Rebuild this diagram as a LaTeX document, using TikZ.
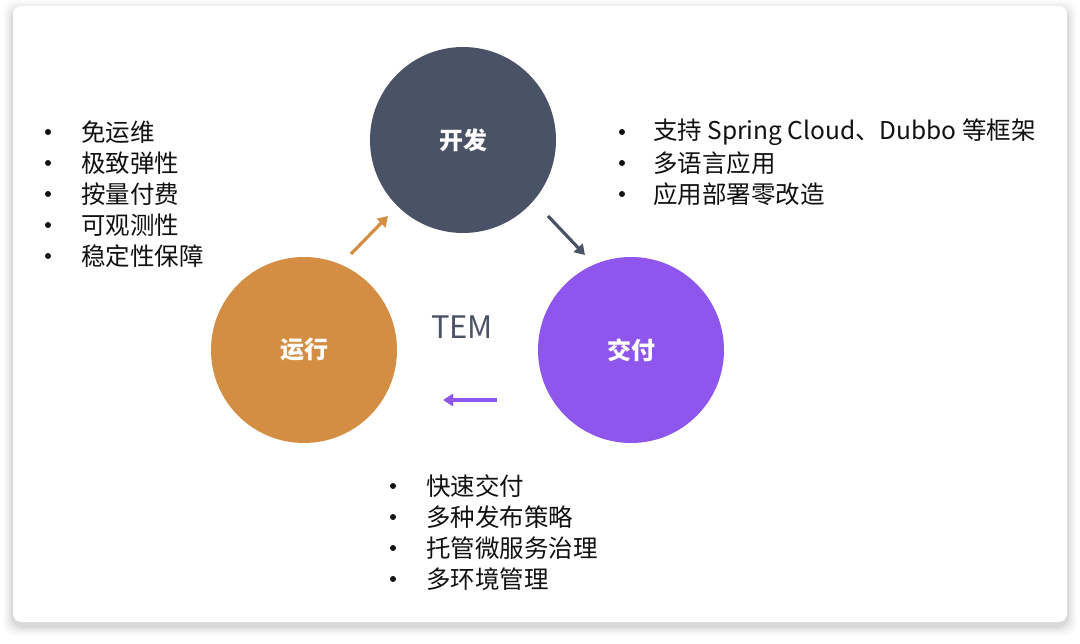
\documentclass[tikz,border=0pt]{standalone}
\usepackage{fontspec}
\setmainfont{Noto Sans CJK SC}
\usetikzlibrary{arrows.meta}
\definecolor{cdark}{HTML}{4A5266}
\definecolor{corange}{HTML}{D38E44}
\definecolor{cpurple}{HTML}{8E56EC}
\definecolor{ctext}{HTML}{111111}
\tikzset{
  circ/.style={circle,minimum size=186pt,inner sep=0pt,text=white,font=\fontsize{24}{24}\selectfont\bfseries},
  arr/.style={line width=3.2pt,-{Triangle[length=10pt,width=12pt]}},
  item/.style={anchor=west,inner sep=0pt,text=ctext,font=\fontsize{24.5}{24.5}\selectfont},
  bul/.style={circle,fill=ctext,inner sep=0pt,minimum size=6pt}
}
\begin{document}
\begin{tikzpicture}[x=1pt,y=-1pt]
\useasboundingbox (0,0) rectangle (1080,644);
% shadow
\foreach \i/\o in {10/0.015,8/0.02,6/0.03,4/0.04,2/0.05}{
  \fill[black,opacity=\o,rounded corners=12pt] (13-\i,6-\i+4) rectangle (1067+\i,622+\i+4);
}
\fill[white,rounded corners=8pt] (13,6) rectangle (1067,622);
% circles
\node[circ,fill=cdark] (dev) at (463,140) {开发};
\node[circ,fill=corange] (run) at (304,350) {运行};
\node[circ,fill=cpurple] (del) at (631,350) {交付};
\node[text=cdark,font=\fontsize{31}{31}\selectfont] (tem) at (462,327) {TEM};
% arrows
\coordinate (a1s) at (351,254); \coordinate (a1e) at (388,216);
\coordinate (a2s) at (548,216); \coordinate (a2e) at (585,255);
\coordinate (a3s) at (497,400); \coordinate (a3e) at (443,400);
\draw[arr,corange] (a1s) -- (a1e);
\draw[arr,cdark] (a2s) -- (a2e);
\draw[arr,cpurple] (a3s) -- (a3e);
% left list
\foreach \t [count=\k] in {免运维,极致弹性,按量付费,可观测性,稳定性保障}{
  \node[bul] (lb\k) at (48,132+31*\k-31) {};
  \node[item] (lt\k) at (81,132+31*\k-31) {\t};
}
% right list
\foreach \t [count=\k] in {{支持 Spring Cloud、Dubbo 等框架},多语言应用,应用部署零改造}{
  \node[bul] (rb\k) at (622,132+31*\k-31) {};
  \node[item] (rt\k) at (653,132+31*\k-31) {\t};
}
% bottom list
\foreach \t [count=\k] in {快速交付,多种发布策略,托管微服务治理,多环境管理}{
  \node[bul] (bb\k) at (393,486+31*\k-31) {};
  \node[item] (bt\k) at (426,486+31*\k-31) {\t};
}
\end{tikzpicture}
\end{document}
